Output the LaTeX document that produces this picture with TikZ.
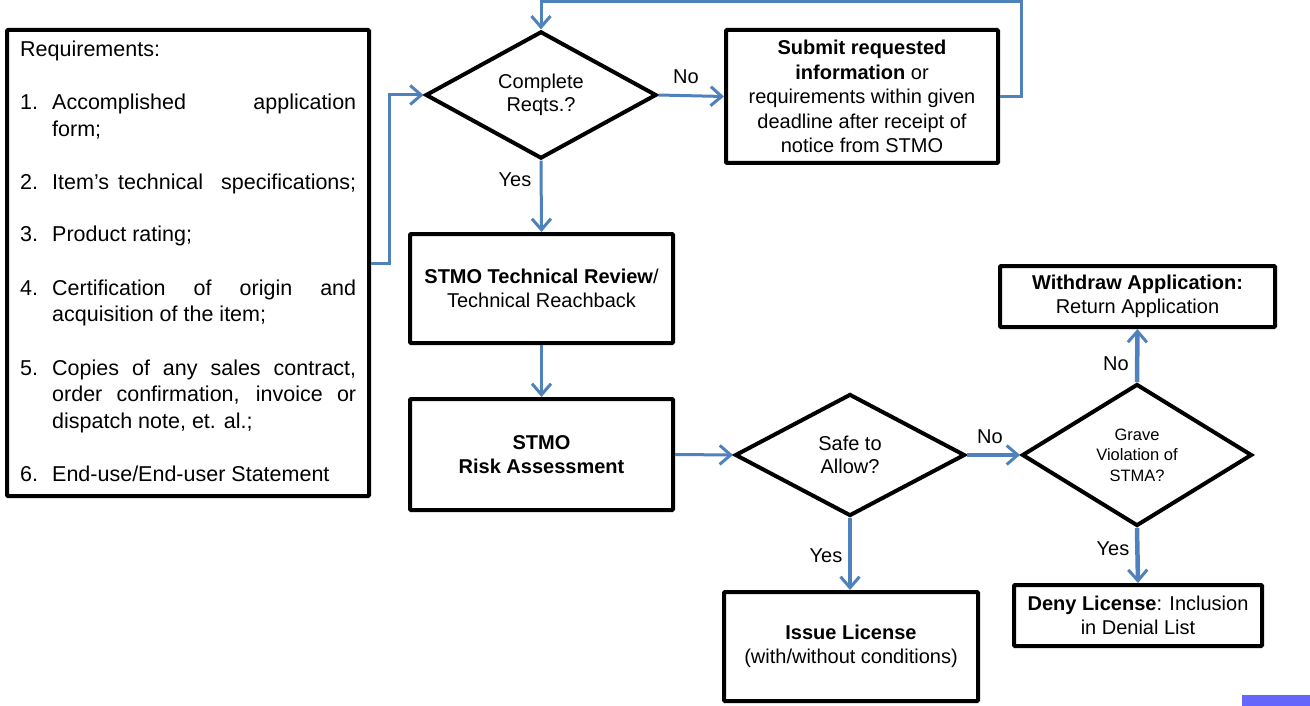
\documentclass[tikz,border=0pt]{standalone}
\usepackage{fontspec}
\setmainfont{Liberation Sans}
\usetikzlibrary{shapes.geometric,arrows.meta}
\definecolor{connblue}{HTML}{4F81BD}
\definecolor{tagblue}{HTML}{6666FF}
\newcommand\rnum[1]{\makebox[32pt][l]{#1}}
\newcommand\rjust[1]{\makebox[304pt][s]{#1}}
\begin{document}
\begin{tikzpicture}[x=1pt,y=-1pt,
  box/.style={draw=black,line width=4pt,rounded corners=1pt,inner sep=0pt,align=center,
    font=\fontsize{20}{24.5}\selectfont},
  dec/.style={diamond,draw=black,line width=4pt,inner sep=0pt,align=center,
    font=\fontsize{20}{23}\selectfont},
  conn/.style={draw=connblue,line width=3pt,
    -{Straight Barb[length=11pt,width=19pt,line width=3pt]}},
  connthick/.style={conn,line width=4.5pt},
  lbl/.style={font=\fontsize{20}{24}\selectfont,inner sep=0pt}]
\useasboundingbox (0,0) rectangle (1310,706);

% requirements box
\node[draw=black,line width=4pt,rounded corners=1pt,minimum width=362pt,minimum height=466pt,inner sep=0pt]
  (req) at (188,263) {};
\node[anchor=base west,inner sep=0pt] (reqtext) at (20,56.7) {%
\begin{minipage}[t]{336pt}\fontsize{21.5}{26.5}\selectfont\parindent0pt
Requirements:\\[26.5pt]
\rnum{1.}\rjust{Accomplished application}\\
\rnum{}form;\\[26.5pt]
\rnum{2.}\rjust{Item’s technical \ specifications;}\\[26pt]
\rnum{3.}Product rating;\\[27pt]
\rnum{4.}\rjust{Certification of origin and}\\
\rnum{}acquisition of the item;\\[27pt]
\rnum{5.}\rjust{Copies of any sales contract,}\\
\rnum{}\rjust{order confirmation, invoice or}\\
\rnum{}dispatch note, et. al.;\\[27pt]
\rnum{6.}End-use/End-user Statement
\end{minipage}};

% nodes
\node[dec,minimum width=231pt,minimum height=122pt] (c1) at (541,95) {Complete\\Reqts.?};
\node[box,minimum width=272pt,minimum height=133pt] (submit) at (862,96.5)
  {\textbf{Submit requested}\\\textbf{information} or\\requirements within given\\deadline after receipt of\\notice from STMO};
\node[box,minimum width=263pt,minimum height=109pt] (tech) at (541.5,288.5)
  {\textbf{STMO Technical Review}/\\Technical Reachback};
\node[box,minimum width=263pt,minimum height=111pt] (risk) at (541.5,454.5)
  {\textbf{STMO}\\\textbf{Risk Assessment}};
\node[dec,minimum width=230pt,minimum height=122pt] (safe) at (850,455) {Safe to\\Allow?};
\node[dec,minimum width=230pt,minimum height=142pt,font=\fontsize{16.5}{20.5}\selectfont]
  (grave) at (1137,455) {Grave\\Violation of\\STMA?};
\node[box,minimum width=254pt,minimum height=109pt] (issue) at (851,646.5)
  {\textbf{Issue License}\\(with/without conditions)};
\node[box,minimum width=248pt,minimum height=61pt] (deny) at (1138,615.5)
  {\textbf{Deny License}: Inclusion\\in Denial List};
\node[box,minimum width=275pt,minimum height=61pt] (withdraw) at (1137.5,296.5)
  {\textbf{Withdraw Application:}\\Return Application};

% connectors
\coordinate (looptop) at (1021,2);
\draw[conn] (req.east) -- ++(18,0) |- (c1.west);
\draw[conn] (c1.east) -- (submit.west);
\draw[conn] (submit.east) -| (looptop) -| (c1.north);
\draw[conn] (c1.south) -- (tech.north);
\draw[conn] (tech.south) -- (risk.north);
\draw[conn] (risk.east) -- (safe.west);
\draw[connthick] (safe.east) -- (grave.west);
\draw[connthick] (safe.south) -- (safe.south |- issue.north);
\draw[connthick] (grave.south) -- (deny.north);
\draw[connthick] (grave.north) -- (withdraw.south);

% labels
\node[lbl] (lno1) at (686,77) {No};
\node[lbl] (lyes1) at (515,180) {Yes};
\node[lbl] (lno2) at (990,437) {No};
\node[lbl] (lyes2) at (826,556) {Yes};
\node[lbl] (lyes3) at (1113,549) {Yes};
\node[lbl] (lno3) at (1116,364) {No};

% corner tag
\fill[tagblue] (1242,695) rectangle (1310,706);
\end{tikzpicture}
\end{document}
